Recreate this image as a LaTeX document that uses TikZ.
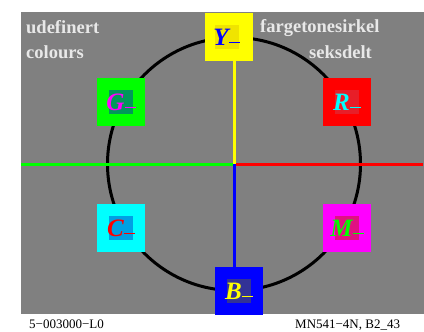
\documentclass[tikz,border=0pt]{standalone}
\usepackage{fontspec}
\setmainfont{Liberation Serif}
\definecolor{bggrey}{RGB}{128,128,128}
\definecolor{headcol}{RGB}{232,232,232}
\definecolor{pY}{RGB}{255,255,0}
\definecolor{pG}{RGB}{0,255,0}
\definecolor{pR}{RGB}{255,0,0}
\definecolor{pC}{RGB}{0,255,255}
\definecolor{pM}{RGB}{255,0,255}
\definecolor{pB}{RGB}{0,0,255}
\definecolor{inY}{RGB}{240,228,0}
\definecolor{inG}{RGB}{0,152,90}
\definecolor{inR}{RGB}{232,30,40}
\definecolor{inC}{RGB}{0,160,228}
\definecolor{inM}{RGB}{224,16,130}
\definecolor{inB}{RGB}{50,50,150}
\tikzset{
  huebox/.style={minimum size=48pt, inner sep=0pt, outer sep=0pt},
  innerbox/.style={minimum size=24pt, inner sep=0pt, outer sep=0pt},
  lab/.style={font=\fontsize{25}{25}\selectfont\bfseries\itshape, inner sep=0pt},
  head/.style={font=\fontsize{18.5}{20}\selectfont\bfseries, text=headcol, anchor=base west, inner sep=0pt},
  foot/.style={font=\fontsize{13}{14}\selectfont, anchor=base west, inner sep=0pt},
  axis/.style={line width=3pt}
}
\newcommand{\hdash}{\rule[2pt]{11pt}{1.3pt}}
\begin{document}
\begin{tikzpicture}[x=1pt,y=-1pt]
\useasboundingbox (0,0) rectangle (424,332);
\fill[bggrey] (21,12) rectangle (424,314);
% texts
\node[head] (t1) at (26,33.5) {udefinert};
\node[head] (t2) at (26,58.5) {colours};
\node[head] (t3) at (260,33) {fargetonesirkel};
\node[head] (t4) at (309,58) {seksdelt};
\node[foot] (f1) at (29,328) {5−003000−L0};
\node[foot] (f2) at (295,328) {MN541−4N, B2\_43};
% circle
\coordinate (O) at (234,164);
\draw[line width=3pt] (O) circle[radius=126.5];
% boxes
\node[huebox, fill=pY] (Y) at (229,37) {};
\node[huebox, fill=pG] (G) at (121,102) {};
\node[huebox, fill=pR] (R) at (347,102) {};
\node[huebox, fill=pC] (C) at (121,228) {};
\node[huebox, fill=pM] (M) at (347,228) {};
\node[huebox, fill=pB] (B) at (239,290.5) {};
% axes
\coordinate (W) at (21,164);
\coordinate (E) at (423,164);
\draw[axis, pG] (W) -- (O);
\draw[axis, pR] (O) -- (E);
\draw[axis, pY] (Y.south -| O) -- (O);
\draw[axis, pB] (O) -- (B.north -| O);
% inner boxes
\node[innerbox, fill=inY] (Yi) at (226.5,37) {};
\node[innerbox, fill=inG] (Gi) at (121,102) {};
\node[innerbox, fill=inR] (Ri) at (347,102) {};
\node[innerbox, fill=inC] (Ci) at (121,228) {};
\node[innerbox, fill=inM] (Mi) at (347,228) {};
\node[innerbox, fill=inB] (Bi) at (239,291) {};
% labels
\node[lab, text=pB] (Yl) at (Yi) {Y\hdash};
\node[lab, text=pM] (Gl) at (Gi) {G\hdash};
\node[lab, text=pC] (Rl) at (Ri) {R\hdash};
\node[lab, text=pR] (Cl) at (Ci) {C\hdash};
\node[lab, text=pG] (Ml) at (Mi) {M\hdash};
\node[lab, text=pY] (Bl) at (Bi) {B\hdash};
\end{tikzpicture}
\end{document}
